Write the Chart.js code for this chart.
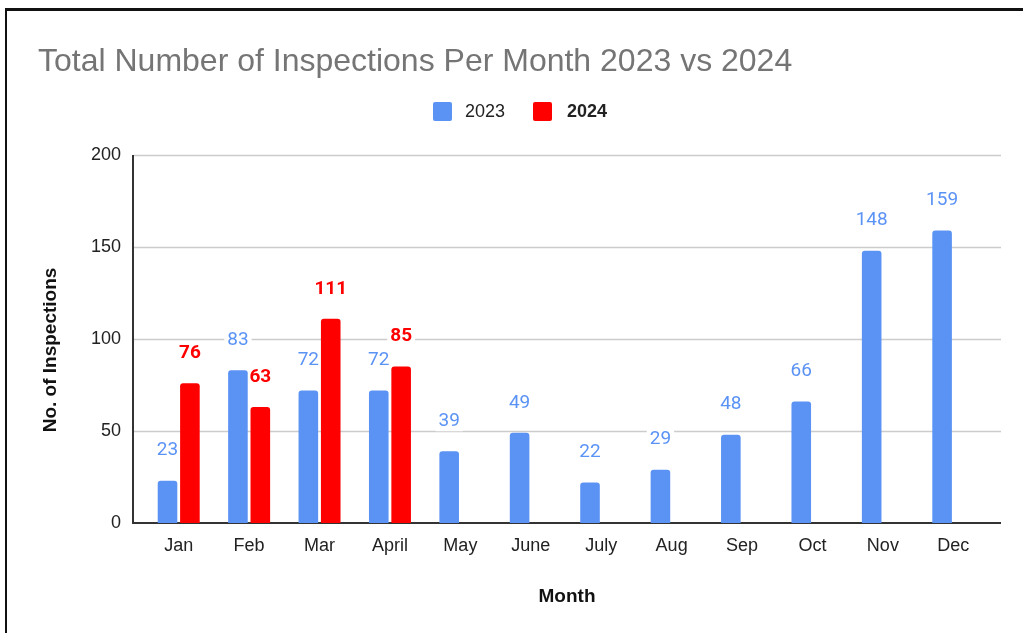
<!DOCTYPE html>
<html>
<head>
<meta charset="utf-8">
<script src="https://cdn.jsdelivr.net/npm/chart.js@4.4.1/dist/chart.umd.min.js"></script>
<style>
  body { margin: 0; background: #fff; }
  #wrap { position: relative; width: 1023px; height: 633px; overflow: hidden; }
  #frame { position: absolute; left: 5px; top: 8px; width: 1100px; height: 700px;
           border-top: 3px solid #111; border-left: 2px solid #111; pointer-events: none; }
  canvas { position: absolute; left: 0; top: 0; }
</style>
</head>
<body>
<div id="wrap">
  <canvas id="inspChart" width="1023" height="633"></canvas>
  <div id="frame"></div>
</div>
<script>
const months = ['Jan', 'Feb', 'Mar', 'April', 'May', 'June', 'July', 'Aug', 'Sep', 'Oct', 'Nov', 'Dec'];
const values2023 = [23, 83, 72, 72, 39, 49, 22, 29, 48, 66, 148, 159];
const values2024 = [76, 63, 111, 85, null, null, null, null, null, null, null, null];
const yTicks = [0, 50, 100, 150, 200];

const blue = '#5b93f5';
const red = '#ff0000';
const font = '"Liberation Sans", Arial, sans-serif';

function labelFont(di) {
    return (di === 1 ? 'bold ' : '') + '19px Roboto, ' + font;
}

// title, legend, axis titles, grid and value labels
const decor = {
    id: 'decor',
    beforeDatasetsDraw(chart) {
        const ctx = chart.ctx;
        const y = chart.scales.y;
        ctx.save();
        ctx.strokeStyle = '#cccccc';
        ctx.lineWidth = 1.5;
        y.ticks.forEach(t => {
            if (t.value === 0) return;
            const py = Math.round(y.getPixelForValue(t.value)) + 0.5;
            ctx.beginPath();
            ctx.moveTo(133, py);
            ctx.lineTo(1001, py);
            ctx.stroke();
        });
        // white patches behind value labels (bars drawn over them)
        ctx.fillStyle = '#fff';
        chart.data.datasets.forEach((ds, di) => {
            ctx.font = labelFont(di);
            chart.getDatasetMeta(di).data.forEach((bar, i) => {
                if (ds.data[i] === null) return;
                const w = ctx.measureText(String(ds.data[i])).width;
                ctx.fillRect(bar.x - w / 2 - 3, bar.y - 40, w + 6, 20);
            });
        });
        ctx.strokeStyle = '#333';
        ctx.lineWidth = 2;
        const y0 = Math.round(y.getPixelForValue(0));
        ctx.beginPath();
        ctx.moveTo(133, y.getPixelForValue(200));
        ctx.lineTo(133, y0);
        ctx.lineTo(1001, y0);
        ctx.stroke();
        ctx.restore();
    },
    afterDatasetsDraw(chart) {
        const ctx = chart.ctx;
        ctx.save();
        ctx.textAlign = 'center';
        ctx.textBaseline = 'middle';
        chart.data.datasets.forEach((ds, di) => {
            ctx.font = labelFont(di);
            ctx.fillStyle = ds.backgroundColor;
            chart.getDatasetMeta(di).data.forEach((bar, i) => {
                if (ds.data[i] === null) return;
                ctx.fillText(String(ds.data[i]), bar.x, bar.y - 30);
            });
        });
        ctx.restore();
    },
    afterDraw(chart) {
        const ctx = chart.ctx;
        ctx.save();
        // title
        ctx.fillStyle = '#757575';
        ctx.font = '32px ' + font;
        ctx.textAlign = 'left';
        ctx.textBaseline = 'middle';
        ctx.fillText('Total Number of Inspections Per Month 2023 vs 2024', 38, 62);
        // legend
        const items = [
            { x: 433, tx: 465, ds: chart.data.datasets[0], bold: false },
            { x: 533, tx: 567, ds: chart.data.datasets[1], bold: true }
        ];
        items.forEach(it => {
            ctx.fillStyle = it.ds.backgroundColor;
            ctx.beginPath();
            ctx.roundRect(it.x, 102, 19, 19, 2);
            ctx.fill();
            ctx.fillStyle = '#222';
            ctx.font = (it.bold ? 'bold ' : '') + '18px ' + font;
            ctx.fillText(it.ds.label, it.tx, 112);
        });
        // axis titles
        ctx.fillStyle = '#111';
        ctx.font = 'bold 19px ' + font;
        ctx.textAlign = 'center';
        ctx.fillText('Month', 567, 597);
        ctx.translate(51, 350);
        ctx.rotate(-Math.PI / 2);
        ctx.fillText('No. of Inspections', 0, 0);
        ctx.restore();
    }
};

const ctx = document.getElementById('inspChart').getContext('2d');

const inspChart = new Chart(ctx, {
    type: 'bar',
    data: {
        labels: months,
        datasets: [
            { label: '2023', data: values2023, backgroundColor: blue },
            { label: '2024', data: values2024, backgroundColor: red }
        ]
    },
    options: {
        responsive: false,
        animation: false,
        devicePixelRatio: 1,
        layout: { padding: { top: 155, right: 34.5, left: 0, bottom: 0 } },
        datasets: {
            bar: {
                categoryPercentage: 0.636,
                barPercentage: 0.875,
                borderRadius: { topLeft: 3, topRight: 3 },
                borderSkipped: 'bottom'
            }
        },
        plugins: {
            legend: { display: false },
            tooltip: { enabled: false }
        },
        scales: {
            x: {
                grid: { display: false, drawTicks: false },
                border: { display: false },
                ticks: { color: '#222', padding: 12, font: { family: font, size: 18 } },
                afterFit(scale) { scale.height = 110; }
            },
            y: {
                min: 0,
                max: 200,
                afterBuildTicks(scale) { scale.ticks = yTicks.map(v => ({ value: v })); },
                grid: { display: false, drawTicks: false },
                border: { display: false },
                ticks: { color: '#222', padding: 22.5, font: { family: font, size: 18 } },
                afterFit(scale) { scale.width = 143.5; }
            }
        }
    },
    plugins: [decor]
});
</script>
</body>
</html>
